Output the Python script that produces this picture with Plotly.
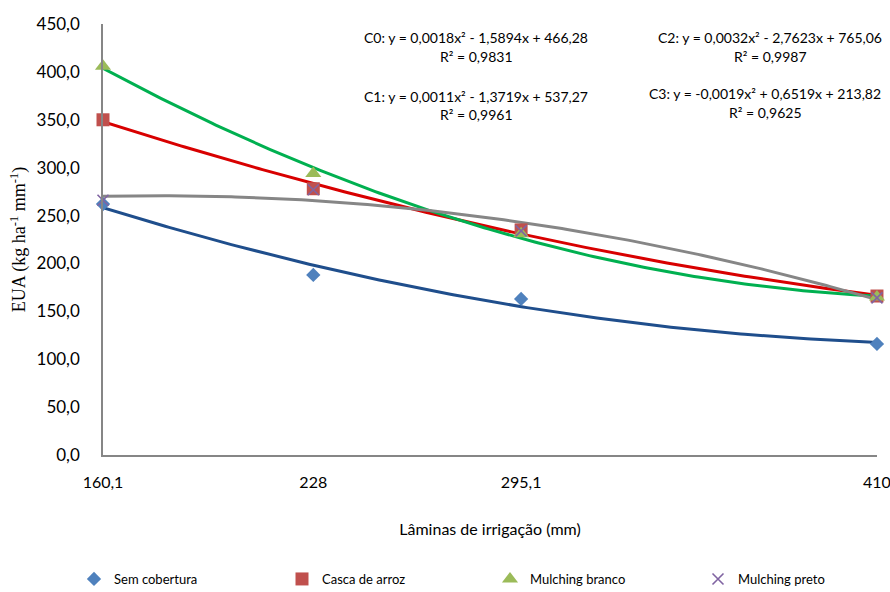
import numpy as np
import plotly.graph_objects as go

# Data
laminas = [160.1, 228, 295.1, 410]
tick_labels = ["160,1", "228", "295,1", "410"]
sem_cobertura = [262, 188, 163, 116]
casca_arroz = [350, 278, 235, 166]
mulching_branco = [406, 294, 231, 165]
mulching_preto = [266, 277, 234, 164]

eq_texts = [
    ("C0: y = 0,0018x² - 1,5894x + 466,28", "R² = 0,9831"),
    ("C1: y = 0,0011x² - 1,3719x + 537,27", "R² = 0,9961"),
    ("C2: y = 0,0032x² - 2,7623x + 765,06", "R² = 0,9987"),
    ("C3: y = -0,0019x² + 0,6519x + 213,82", "R² = 0,9625"),
]

W, H = 890, 592
L, R, T, B = 103, 13, 24, 137
pw, ph = W - L - R, H - T - B

def px(xp):
    return (xp - L) / pw

def py(yp):
    return (H - B - yp) / ph

series = [
    ("Sem cobertura", sem_cobertura, "diamond", 11, "#4F81BD", "#1F4E8C"),
    ("Casca de arroz", casca_arroz, "square", 13, "#C0504D", "#D80000"),
    ("Mulching branco", mulching_branco, "triangle-up", 14, "#9BBB59", "#00B050"),
    ("Mulching preto", mulching_preto, "x-thin", 11, "#8064A2", "#868686"),
]

fig = go.Figure()
xs = np.linspace(min(laminas), max(laminas), 200)
for name, vals, sym, size, mcol, lcol in series:
    coef = np.polyfit(laminas, vals, 2)  # second-order polynomial trend line
    fig.add_trace(go.Scatter(x=xs, y=np.polyval(coef, xs), mode="lines",
                             line=dict(color=lcol, width=3),
                             showlegend=False, hoverinfo="skip", cliponaxis=False))
for name, vals, sym, size, mcol, lcol in series:
    marker = dict(symbol=sym, size=size, color=mcol)
    if sym == "x-thin":
        marker["line"] = dict(color=mcol, width=1.6)
    fig.add_trace(go.Scatter(x=laminas, y=vals, mode="markers", name=name, marker=marker,
                             cliponaxis=False))

font_main = "Lato, 'Open Sans', sans-serif"
ann = []
positions = [(476, 37, 57), (476, 96, 115), (770, 37, 57), (765, 93, 113)]
for (eq, r2), (xc, y1, y2) in zip(eq_texts, positions):
    for txt, yy in ((eq, y1), (r2, y2)):
        ann.append(dict(x=px(xc), y=py(yy), xref="paper", yref="paper", text=txt,
                        showarrow=False, xanchor="center", yanchor="middle",
                        font=dict(family=font_main, size=14, color="#000")))

fig.update_layout(
    width=W, height=H,
    margin=dict(l=L, r=R, t=T, b=B, autoexpand=False),
    paper_bgcolor="white", plot_bgcolor="white",
    font=dict(family=font_main, color="#000"),
    annotations=ann,
    legend=dict(orientation="h", xref="paper", yref="paper",
                x=px(74), y=py(564), xanchor="left", yanchor="top",
                entrywidth=163, entrywidthmode="pixels",
                font=dict(family=font_main, size=13, color="#000")),
    xaxis=dict(range=[min(laminas), max(laminas) + 0.01], tickvals=laminas, ticktext=tick_labels,
               showgrid=False, zeroline=False, showline=True, linecolor="#868686", linewidth=1.5,
               ticks="", ticklabelstandoff=12, tickfont=dict(family=font_main, size=16),
               ticklabeloverflow="allow", automargin=False,
               title=dict(text="Lâminas de irrigação (mm)", standoff=34,
                          font=dict(family=font_main, size=16))),
    yaxis=dict(range=[0, 450], tickvals=list(range(0, 451, 50)),
               ticktext=[f"{v},0" for v in range(0, 451, 50)],
               showgrid=False, zeroline=False, showline=True, linecolor="#868686", linewidth=1.5,
               ticks="", ticklabelstandoff=18, tickfont=dict(family=font_main, size=17),
               automargin=False,
               title=dict(text="EUA (kg ha<sup>-1</sup> mm<sup>-1</sup>)", standoff=6,
                          font=dict(family="'Liberation Serif', 'Times New Roman', serif", size=18))),
)

fig.write_html("out.html")
